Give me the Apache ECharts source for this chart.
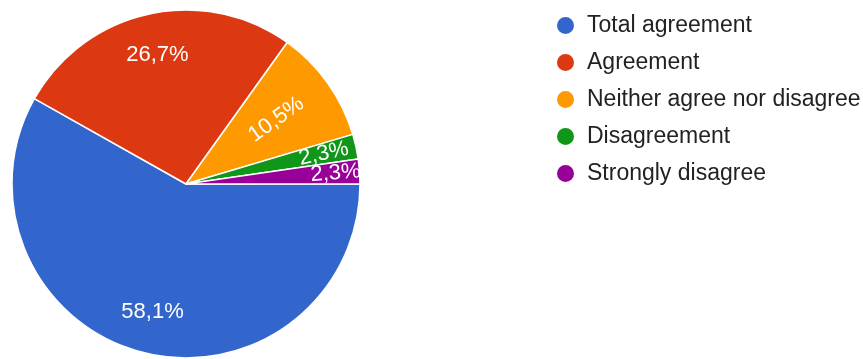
<!DOCTYPE html>
<html>
<head>
<meta charset="utf-8">
<script src="https://cdn.jsdelivr.net/npm/echarts@6/dist/echarts.min.js"></script>
<style>html,body{margin:0;padding:0;background:#fff}#c{width:863px;height:359px}</style>
</head>
<body>
<div id="c"></div>
<script>
const categories = ["Total agreement", "Agreement", "Neither agree nor disagree", "Disagreement", "Strongly disagree"];
const values = [58.1, 26.7, 10.5, 2.3, 2.3];
const colors = ["#3366CC", "#DC3912", "#FF9900", "#109618", "#990099"];
const rotateLabel = [false, false, true, true, true];

const chart = echarts.init(document.getElementById('c'));
const font = "'Liberation Sans', Arial, sans-serif";
const fmt = p => p.value.toFixed(1).replace('.', ',') + '%';

function labelSeries(indices, inner, outer) {
  return {
    type: 'pie',
    center: [186, 184],
    radius: [inner, outer],
    startAngle: 0,
    clockwise: true,
    silent: true,
    legendHoverLink: false,
    avoidLabelOverlap: false,
    labelLayout: { hideOverlap: false },
    labelLine: { show: false },
    emphasis: { disabled: true },
    itemStyle: { color: 'transparent', borderWidth: 0 },
    label: {
      show: true,
      position: 'inside',
      color: '#fff',
      fontFamily: font,
      fontSize: 22,
      formatter: fmt
    },
    data: categories.map((c, i) => ({
      name: c + ' ',
      value: values[i],
      label: indices.includes(i)
        ? (rotateLabel[i] ? { show: true, rotate: 'radial' } : { show: true, rotate: 0 })
        : { show: false }
    }))
  };
}

chart.setOption({
  animation: false,
  legend: {
    orient: 'vertical',
    left: 550,
    top: 9,
    icon: 'circle',
    itemWidth: 19,
    itemHeight: 19,
    itemGap: 14,
    textStyle: { fontFamily: font, fontSize: 23, lineHeight: 23, color: '#222', padding: [0, 0, 0, 7] },
    data: categories
  },
  series: [
    {
      type: 'pie',
      center: [186, 184],
      radius: [0, 174],
      startAngle: 0,
      clockwise: true,
      avoidLabelOverlap: false,
      label: { show: false },
      labelLine: { show: false },
      emphasis: { disabled: true },
      itemStyle: { borderColor: '#fff', borderWidth: 1.5 },
      data: categories.map((c, i) => ({ name: c, value: values[i], itemStyle: { color: colors[i] } }))
    },
    labelSeries([0, 1], 84, 174),
    labelSeries([2], 42, 174),
    labelSeries([3], 102, 174),
    labelSeries([4], 120, 174)
  ]
});
</script>
</body>
</html>
